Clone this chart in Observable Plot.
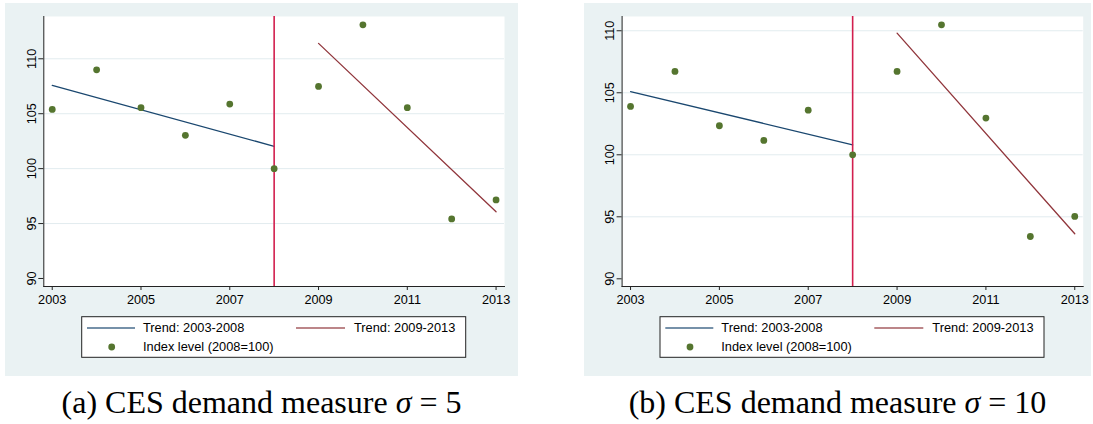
<!DOCTYPE html>
<html><head><meta charset="utf-8">
<script src="https://cdn.jsdelivr.net/npm/d3@7"></script>
<script src="https://cdn.jsdelivr.net/npm/@observablehq/plot@0.6"></script>
<style>
body{margin:0;background:#fff;}
#page{position:relative;width:1093px;height:424px;overflow:hidden;background:#fff;}
.bg{position:absolute;background:#eaf2f3;}
.chart{position:absolute;top:0;}
#overlay{position:absolute;left:0;top:0;}
</style></head><body><div id="page">
<div class="bg" style="left:5px;top:3px;width:513px;height:373px"></div>
<div class="bg" style="left:584px;top:3px;width:507px;height:373px"></div>
<div id="a" class="chart" style="left:0px"></div>
<div id="b" class="chart" style="left:578px"></div>
<svg id="overlay" width="1093" height="424"></svg>
</div>
<script>
// ---- data ----
const years = [2003, 2004, 2005, 2006, 2007, 2008, 2009, 2010, 2011, 2012, 2013];
const indexA = [105.39, 109.0, 105.55, 103.03, 105.88, 100.0, 107.48, 113.09, 105.55, 95.42, 97.15];
const indexB = [103.90, 106.72, 102.34, 101.16, 103.60, 100.0, 106.72, 110.48, 102.96, 93.41, 95.03];
const breakYear = 2008;
const xTicks = [2003, 2005, 2007, 2009, 2011, 2013];
const yTicks = [90, 95, 100, 105, 110];
const gridTicks = [95, 100, 105, 110];
const legendLabels = ["Trend: 2003-2008", "Trend: 2009-2013", "Index level (2008=100)"];
const captionText = ["(a) CES demand measure ", "(b) CES demand measure "];
const captionValue = ["5", "10"];

const colors = {pre: "#1a476f", post: "#90353b", dot: "#55752f", vline: "#d21f4e", axis: "#222"};

function makeChart(values, yDomain, width, marginLeft, marginRight) {
  const data = years.map((year, i) => ({year, value: values[i]}));
  return Plot.plot({
    width, height: 310,
    marginLeft, marginRight, marginTop: 16, marginBottom: 24,
    style: {background: "transparent", fontFamily: "'Liberation Sans', Arial, sans-serif", fontSize: "12.7px", color: "#000"},
    x: {domain: [2002.81, 2013.19]},
    y: {domain: yDomain},
    marks: [
      Plot.frame({fill: "white", stroke: null}),
      Plot.gridY(gridTicks, {stroke: "#e2ecef", strokeOpacity: 1}),
      Plot.linearRegressionY(data.filter(d => d.year <= breakYear), {x: "year", y: "value", stroke: colors.pre, strokeWidth: 1.3, ci: 0}),
      Plot.linearRegressionY(data.filter(d => d.year > breakYear), {x: "year", y: "value", stroke: colors.post, strokeWidth: 1.3, ci: 0}),
      Plot.ruleX([breakYear], {stroke: colors.vline, strokeWidth: 1.6}),
      Plot.dot(data, {x: "year", y: "value", r: 3.4, fill: colors.dot, stroke: null}),
      Plot.axisX(xTicks, {tickFormat: d => String(d), tickSize: 4, tickPadding: 4, stroke: colors.axis, label: null}),
      Plot.axisY(yTicks, {tickRotate: -90, tickSize: 5, tickPadding: 3, stroke: colors.axis, label: null}),
      Plot.frame({anchor: "left", stroke: colors.axis}),
      Plot.frame({anchor: "bottom", stroke: colors.axis})
    ]
  });
}

document.getElementById("a").appendChild(makeChart(indexA, [89.27, 113.85], 520, 43.3, 16));
document.getElementById("b").appendChild(makeChart(indexB, [89.38, 111.15], 515, 43.6, 10.3));

// ---- legends and captions ----
const svg = d3.select("#overlay");
const legendLefts = [81.7, 660];
const captionCenters = [261.5, 837.5];
legendLefts.forEach((lx, p) => {
  const g = svg.append("g").attr("transform", `translate(${lx},316.7)`);
  g.append("rect").attr("width", 384).attr("height", 40.6).attr("fill", "white").attr("stroke", "#222").attr("stroke-width", 1);
  g.append("line").attr("x1", 5.3).attr("x2", 53.3).attr("y1", 11.3).attr("y2", 11.3).attr("stroke", colors.pre).attr("stroke-opacity", 0.6).attr("stroke-width", 2);
  g.append("line").attr("x1", 214.3).attr("x2", 263.3).attr("y1", 11.3).attr("y2", 11.3).attr("stroke", colors.post).attr("stroke-opacity", 0.6).attr("stroke-width", 2);
  g.append("circle").attr("cx", 30).attr("cy", 30.3).attr("r", 3.4).attr("fill", colors.dot);
  const txt = (x, y, s) => g.append("text").attr("x", x).attr("y", y).attr("font-family", "'Liberation Sans', Arial, sans-serif").attr("font-size", 12.8).attr("fill", "#000").text(s);
  txt(61.3, 15.3, legendLabels[0]);
  txt(272.3, 15.3, legendLabels[1]);
  txt(61.3, 34.5, legendLabels[2]);
  const t = svg.append("text").attr("x", captionCenters[p]).attr("y", 412.7).attr("text-anchor", "middle")
    .attr("font-family", "'Liberation Serif', 'DejaVu Serif', serif").attr("font-size", 32).attr("fill", "#000");
  t.append("tspan").text(captionText[p]);
  t.append("tspan").attr("font-style", "italic").text("σ");
  t.append("tspan").text(" = " + captionValue[p]);
});
</script>
</body></html>
